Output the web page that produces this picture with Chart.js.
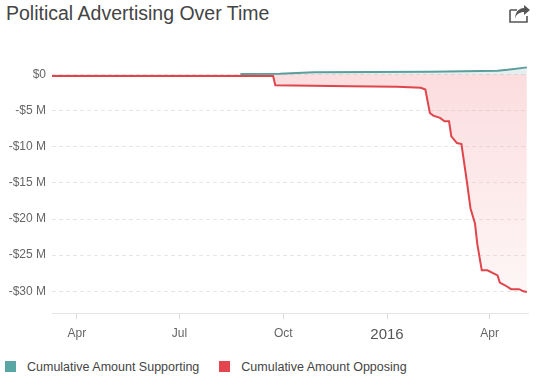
<!DOCTYPE html>
<html>
<head>
<meta charset="utf-8">
<script src="https://cdn.jsdelivr.net/npm/chart.js@4"></script>
<style>
body { margin: 0; background: #fff; font-family: "Liberation Sans", Arial, sans-serif; }
#wrap { position: relative; width: 542px; height: 391px; overflow: hidden; }
#title { position: absolute; left: 6px; top: 2px; font-size: 19.5px; color: #444; }
#share { position: absolute; left: 508px; top: 4px; }
#chartBox { position: absolute; left: 0; top: 0; width: 542px; height: 350px; }
#legend { position: absolute; left: 5px; top: 360px; font-size: 12.5px; color: #444; }
.item { display: inline-block; margin-right: 20px; }
.box { display: inline-block; width: 11px; height: 11px; vertical-align: -1px; margin-right: 11px; }
</style>
</head>
<body>
<div id="wrap">
  <div id="title">Political Advertising Over Time</div>
  <svg id="share" width="24" height="20" viewBox="0 0 24 20">
    <path d="M2 6 H9 M2 6 V18 H19 V12" fill="none" stroke="#555" stroke-width="1.6"/>
    <path d="M7 15 C8 10 12 8 16 8 V11 L22 6 L16 1 V4 C10 4 7 9 7 15 Z" fill="#555"/>
  </svg>
  <div id="chartBox"><canvas id="chart"></canvas></div>
  <div id="legend"></div>
</div>
<script>
const seriesNames = ['Cumulative Amount Supporting', 'Cumulative Amount Opposing'];
const seriesColors = ['#5aa6a4', '#e3474d'];

// amounts in millions of dollars
const supportDates = ['2015-08-24', '2015-09-28', '2015-10-28', '2016-02-08', '2016-04-08', '2016-04-17', '2016-05-04'];
const supportValues = [0.05, 0.1, 0.3, 0.37, 0.5, 0.65, 0.98];

const opposeDates = ['2015-03-10', '2015-09-22', '2015-09-24', '2015-11-29', '2016-01-10', '2016-01-31', '2016-02-04',
    '2016-02-08', '2016-02-11', '2016-02-17', '2016-02-21', '2016-02-25', '2016-02-27', '2016-03-03', '2016-03-07',
    '2016-03-12', '2016-03-15', '2016-03-19', '2016-03-21', '2016-03-25', '2016-03-30', '2016-04-08', '2016-04-10',
    '2016-04-15', '2016-04-20', '2016-04-27', '2016-05-01', '2016-05-04'];
const opposeValues = [-0.2, -0.2, -1.49, -1.62, -1.71, -1.85, -2.08,
    -5.32, -5.69, -6.01, -6.49, -6.49, -8.57, -9.49, -9.63,
    -15.04, -18.51, -20.6, -23.4, -27.1, -27.1, -27.8, -28.8,
    -29.2, -29.7, -29.7, -30.0, -30.1];

const xTickDates = ['2015-04-01', '2015-07-01', '2015-10-01', '2016-01-01', '2016-04-01'];
const yTickValues = [0, -5, -10, -15, -20, -25, -30];
const xRange = ['2015-03-10', '2016-05-05'];
const yRange = [-33, 2];

const months = ['Jan', 'Feb', 'Mar', 'Apr', 'May', 'Jun', 'Jul', 'Aug', 'Sep', 'Oct', 'Nov', 'Dec'];

function toDay(s) {
    const p = s.split('-');
    return Date.UTC(+p[0], +p[1] - 1, +p[2]) / 864e5;
}

function dayLabel(d) {
    const dt = new Date(d * 864e5);
    if (dt.getUTCMonth() === 0) return String(dt.getUTCFullYear());
    return months[dt.getUTCMonth()];
}

function isYear(c) {
    return !!(c && c.tick && dayLabel(c.tick.value).length === 4);
}

function points(dates, values) {
    return dates.map((d, i) => ({ x: toDay(d), y: values[i] }));
}

function redFill(context) {
    const chart = context.chart;
    const area = chart.chartArea;
    if (!area) return 'rgba(245,170,172,0.3)';
    const g = chart.ctx.createLinearGradient(0, area.top, 0, area.bottom);
    g.addColorStop(0, 'rgba(246,170,174,0.42)');
    g.addColorStop(1, 'rgba(246,170,174,0.08)');
    return g;
}

// legend
const legend = document.getElementById('legend');
seriesNames.forEach((name, i) => {
    const item = document.createElement('span');
    item.className = 'item';
    item.innerHTML = `<span class="box" style="background:${seriesColors[i]}"></span>${name}`;
    legend.appendChild(item);
});

const ctx = document.getElementById('chart').getContext('2d');
new Chart(ctx, {
    type: 'line',
    data: {
        datasets: [{
            label: seriesNames[0],
            data: points(supportDates, supportValues),
            borderColor: '#5b9e9b',
            backgroundColor: 'rgba(90,150,150,0.15)',
            borderWidth: 2,
            fill: 'origin',
            pointRadius: 0,
            tension: 0
        }, {
            label: seriesNames[1],
            data: points(opposeDates, opposeValues),
            borderColor: '#df454b',
            backgroundColor: redFill,
            borderWidth: 2,
            fill: 'origin',
            pointRadius: 0,
            tension: 0
        }]
    },
    options: {
        responsive: true,
        maintainAspectRatio: false,
        animation: false,
        layout: { padding: { top: 60, right: 14, left: 0, bottom: 0 } },
        plugins: {
            legend: { display: false },
            tooltip: { enabled: false }
        },
        scales: {
            x: {
                type: 'linear',
                min: toDay(xRange[0]),
                max: toDay(xRange[1]),
                afterBuildTicks: axis => { axis.ticks = xTickDates.map(d => ({ value: toDay(d) })); },
                afterFit: axis => { axis.height = 37; },
                grid: { drawOnChartArea: false, drawTicks: true, tickLength: 6, color: '#d8d8d8' },
                border: { display: true, color: '#e6e6e6', width: 1 },
                ticks: {
                    padding: 7,
                    maxRotation: 0,
                    autoSkip: false,
                    callback: v => dayLabel(v),
                    color: c => isYear(c) ? '#555' : '#666',
                    font: c => ({
                        family: '"Liberation Sans", Arial, sans-serif',
                        size: isYear(c) ? 15 : 12
                    })
                }
            },
            y: {
                min: yRange[0],
                max: yRange[1],
                afterBuildTicks: axis => { axis.ticks = yTickValues.map(v => ({ value: v })); },
                afterFit: axis => { axis.width = 52; },
                grid: { color: '#e6e6e6', drawTicks: false },
                border: { display: false, dash: [4, 3] },
                ticks: {
                    padding: 6,
                    color: '#666',
                    font: { family: '"Liberation Sans", Arial, sans-serif', size: 12 },
                    callback: v => v === 0 ? '$0' : '-$' + Math.abs(v) + ' M'
                }
            }
        }
    }
});
</script>
</body>
</html>
